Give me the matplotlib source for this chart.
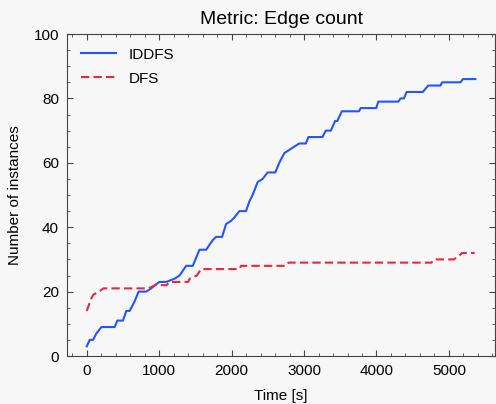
import numpy as np
import matplotlib
matplotlib.use("Agg")
import matplotlib.pyplot as plt
from matplotlib.ticker import MultipleLocator

plt.rcParams['font.family'] = ['Liberation Sans', 'DejaVu Sans']

# cumulative number of solved instances over time
iddfs_t = [0, 41, 87, 133, 202, 386, 422, 500, 546, 592, 661, 716, 822, 890, 940, 1005,
           1097, 1212, 1281, 1373, 1464, 1556, 1648, 1740, 1786, 1869, 1924, 1993, 2038,
           2107, 2199, 2245, 2290, 2359, 2428, 2497, 2603, 2658, 2727, 2796, 2864, 2933,
           3025, 3061, 3254, 3301, 3370, 3429, 3460, 3521, 3759, 3782, 3997, 4025, 4300,
           4333, 4379, 4416, 4640, 4714, 4884, 4906, 5160, 5193, 5366]
iddfs_n = [3, 5, 5, 7, 9, 9, 11, 11, 14, 14, 17, 20, 20, 21, 22, 23,
           23, 24, 25, 28, 28, 33, 33, 36, 37, 37, 41, 42, 43,
           45, 45, 48, 50, 54, 55, 57, 57, 60, 63, 64, 65, 66,
           66, 68, 68, 70, 70, 73, 73, 76, 76, 77, 77, 79, 79,
           80, 80, 82, 82, 84, 84, 85, 85, 86, 86]

dfs_t = [0, 65, 90, 170, 230, 850, 950, 1100, 1150, 1400, 1420, 1520, 1579, 2107, 2130,
         2750, 2786, 4760, 4792, 5067, 5136, 5181, 5356]
dfs_n = [14, 18, 19, 20, 21, 21, 22, 22, 23, 23, 24, 25, 27, 27, 28,
         28, 29, 29, 30, 30, 31, 32, 32]

bg = '#f7f7f7'
fig = plt.figure(figsize=(4.96, 4.04), dpi=100, facecolor=bg)
ax = fig.add_axes([0.1357, 0.1188, 0.862, 0.797])
ax.set_facecolor(bg)

ax.plot(iddfs_t, iddfs_n, color='#2255ff', lw=1.5, label='IDDFS')
ax.plot(dfs_t, dfs_n, color='#e8283c', lw=1.5, ls=(0, (4, 2)), label='DFS')

ax.set_ylim(0, 100)
ax.margins(x=0.05)
ax.xaxis.set_major_locator(MultipleLocator(1000))
ax.xaxis.set_minor_locator(MultipleLocator(200))
ax.yaxis.set_major_locator(MultipleLocator(20))
ax.yaxis.set_minor_locator(MultipleLocator(5))
ax.tick_params(which='both', direction='in', top=True, right=True, labelsize=11, color='#444444')
ax.tick_params(which='major', length=4, width=0.8, pad=6)
ax.tick_params(which='minor', length=2, width=0.6)
for s in ax.spines.values():
    s.set_color('#444444')
    s.set_linewidth(0.8)

ax.set_xlabel('Time [s]', fontsize=11, labelpad=8)
ax.set_ylabel('Number of instances', fontsize=11, labelpad=8)
ax.set_title('Metric: Edge count', fontsize=14, pad=7)
ax.legend(loc='upper left', frameon=False, fontsize=11, handlelength=2.3, labelspacing=0.65)

fig.savefig('out.png', dpi=100, facecolor=bg)
